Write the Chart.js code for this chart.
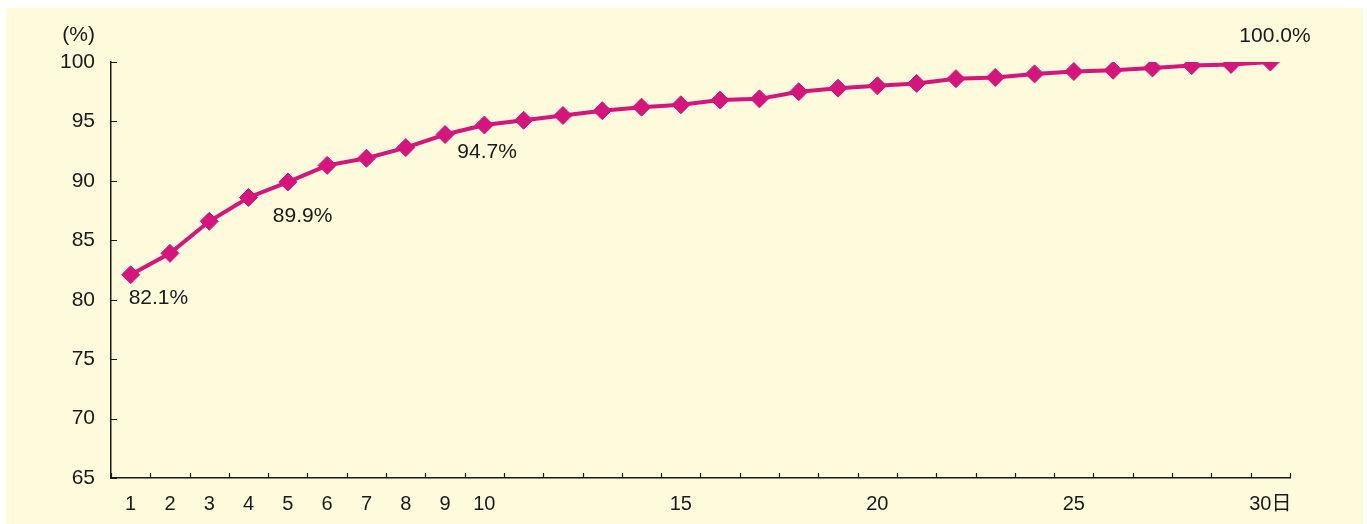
<!DOCTYPE html>
<html lang="ja">
<head>
    <meta charset="UTF-8">
    <title>累積割合</title>
    <script src="https://cdn.jsdelivr.net/npm/chart.js"></script>
    <style>
        * { margin: 0; padding: 0; box-sizing: border-box; }
        body { background: #ffffff; width: 1367px; height: 524px; overflow: hidden; }
        .panel {
            position: absolute;
            left: 6px; top: 8px;
            width: 1357px; height: 516px;
            background: #fefbdc;
        }
    </style>
</head>
<body>
    <div class="panel">
        <canvas id="myChart" width="1357" height="516"></canvas>
    </div>

    <script>
        // 日数 (1〜30日)
        const days = [1, 2, 3, 4, 5, 6, 7, 8, 9, 10, 11, 12, 13, 14, 15, 16, 17, 18, 19, 20, 21, 22, 23, 24, 25, 26, 27, 28, 29, 30];
        // 累積割合 (%)
        const cumulative = [82.1, 83.9, 86.6, 88.6, 89.9, 91.3, 91.9, 92.8, 93.9, 94.7,
                            95.1, 95.5, 95.9, 96.2, 96.4, 96.8, 96.9, 97.5, 97.8, 98.0,
                            98.2, 98.6, 98.7, 99.0, 99.2, 99.3, 99.5, 99.7, 99.8, 100.0];
        // x軸に表示するラベル
        const shownDays = [1, 2, 3, 4, 5, 6, 7, 8, 9, 10, 15, 20, 25, 30];
        const yTicks = [65, 70, 75, 80, 85, 90, 95, 100];
        // 値ラベルを付ける点 (index)
        const labelled = [0, 4, 9, 29];

        const FONT = "'Liberation Sans', Arial, 'Noto Sans CJK JP', sans-serif";
        const LINE = "#d4157b";
        const INK = "#1a1a1a";

        // 内向きの目盛りと注記
        const extras = {
            id: "extras",
            afterDraw(chart) {
                const ctx = chart.ctx;
                const x = chart.scales.x, y = chart.scales.y;
                const area = chart.chartArea;
                ctx.save();
                ctx.strokeStyle = INK;
                ctx.lineWidth = 1.2;
                ctx.beginPath();
                const step = x.getPixelForValue(1) - x.getPixelForValue(0);
                for (let i = 0; i <= days.length; i++) {
                    const px = Math.round(x.getPixelForValue(0) - step / 2 + i * step) + 0.5;
                    ctx.moveTo(px, area.bottom);
                    ctx.lineTo(px, area.bottom - 5);
                }
                yTicks.forEach(v => {
                    const py = Math.round(y.getPixelForValue(v)) + 0.5;
                    ctx.moveTo(area.left, py);
                    ctx.lineTo(area.left + 6, py);
                });
                ctx.stroke();

                ctx.fillStyle = INK;
                ctx.font = "21px " + FONT;
                ctx.textBaseline = "middle";
                ctx.textAlign = "right";
                ctx.fillText("(%)", area.left - 16, y.getPixelForValue(100) - 27);
                ctx.restore();
            },
            afterDatasetsDraw(chart) {
                const ctx = chart.ctx;
                const pts = chart.getDatasetMeta(0).data;
                // 点からのずれ [左端, 中心高さ]
                const offsets = { 0: [-2, 23], 4: [-15, 34], 9: [-27, 27], 29: [-31, -26] };
                ctx.save();
                ctx.fillStyle = INK;
                ctx.font = "21px " + FONT;
                ctx.textAlign = "left";
                ctx.textBaseline = "middle";
                labelled.forEach(i => {
                    const p = pts[i];
                    const o = offsets[i];
                    ctx.fillText(cumulative[i].toFixed(1) + "%", p.x + o[0], p.y + o[1]);
                });
                ctx.restore();
            }
        };

        const ctx = document.getElementById("myChart").getContext("2d");
        new Chart(ctx, {
            type: "line",
            data: {
                labels: days,
                datasets: [{
                    data: cumulative,
                    borderColor: LINE,
                    backgroundColor: LINE,
                    borderWidth: 4,
                    pointStyle: "rectRot",
                    pointRadius: 9,
                    pointBorderWidth: 1,
                    pointBackgroundColor: LINE,
                    pointBorderColor: LINE,
                    tension: 0
                }]
            },
            options: {
                responsive: false,
                animation: false,
                layout: { padding: { left: 0, top: 54, right: 73, bottom: 0 } },
                plugins: {
                    legend: { display: false },
                    tooltip: { enabled: false }
                },
                scales: {
                    x: {
                        type: "category",
                        offset: true,
                        grid: { display: false, offset: true },
                        border: { display: true, color: INK, width: 1.5 },
                        afterFit(scale) { scale.height = 46; },
                        ticks: {
                            autoSkip: false,
                            maxRotation: 0,
                            padding: 6,
                            color: INK,
                            font: { size: 20, family: FONT },
                            callback(value, index) {
                                const d = days[index];
                                if (!shownDays.includes(d)) return "";
                                return d === 30 ? "30日" : String(d);
                            }
                        }
                    },
                    y: {
                        min: 65,
                        max: 100,
                        grid: { display: false },
                        border: { display: true, color: INK, width: 1.5 },
                        afterFit(scale) { scale.width = 105; },
                        ticks: {
                            stepSize: 5,
                            padding: 8,
                            color: INK,
                            font: { size: 21, family: FONT }
                        }
                    }
                }
            },
            plugins: [extras]
        });
    </script>
</body>
</html>
